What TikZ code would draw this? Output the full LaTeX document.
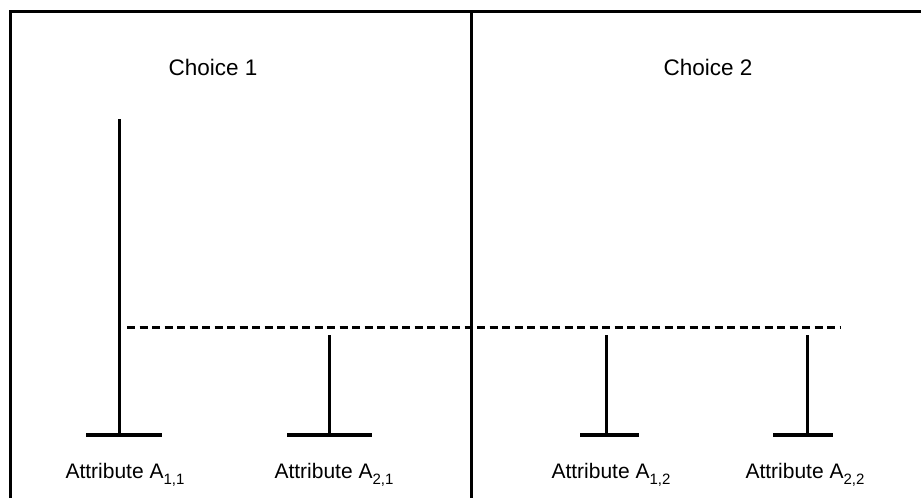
\documentclass[tikz,border=0pt]{standalone}
\usepackage{fontspec}
\setmainfont{Liberation Sans}
\begin{document}
\begin{tikzpicture}[x=1pt,y=-1pt,
  frame/.style={line width=3pt},
  stem/.style={line width=3pt},
  foot/.style={line width=4pt},
  level/.style={line width=3pt,dash pattern=on 8pt off 4.5pt},
  title/.style={font=\fontsize{22.5}{22.5}\selectfont,anchor=base},
  attr/.style={font=\fontsize{21}{21}\selectfont,anchor=base}]
\useasboundingbox (0,0) rectangle (921,498);
% frame
\coordinate (tl) at (10.5,11);
\coordinate (tr) at (921,11);
\coordinate (bl) at (10.5,498);
\coordinate (tm) at (471,11);
\coordinate (bm) at (471,498);
\draw[frame] (bl) -- (tl) -- (tr);
\draw[frame] (tm) -- (bm);
% titles
\node[title] (c1) at (213,75) {Choice 1};
\node[title] (c2) at (708,75) {Choice 2};
% dashed level
\coordinate (d1) at (127,327);
\coordinate (d2) at (840,327);
\draw[level] (d1) -- (d2);
% bars
\newcommand{\attrbar}[5]{%
  \coordinate (#1top) at (#2,#3);
  \coordinate (#1bot) at (#2,435);
  \coordinate (#1fl) at (#4,435);
  \coordinate (#1fr) at (#5,435);
  \draw[stem] (#1top) -- (#1bot);
  \draw[foot] (#1fl) -- (#1fr);}
\attrbar{a}{119}{119}{86}{162}
\attrbar{b}{329}{335}{287}{372}
\attrbar{c}{606}{335}{580}{639}
\attrbar{d}{807}{335}{773}{833}
% labels
\newcommand{\sbs}[1]{\raisebox{-0.3em}{\fontsize{15}{15}\selectfont #1}}
\node[attr] (la) at (125,478) {Attribute A\sbs{1,1}};
\node[attr] (lb) at (334,478) {Attribute A\sbs{2,1}};
\node[attr] (lc) at (611,478) {Attribute A\sbs{1,2}};
\node[attr] (ld) at (805,478) {Attribute A\sbs{2,2}};
\end{tikzpicture}
\end{document}
